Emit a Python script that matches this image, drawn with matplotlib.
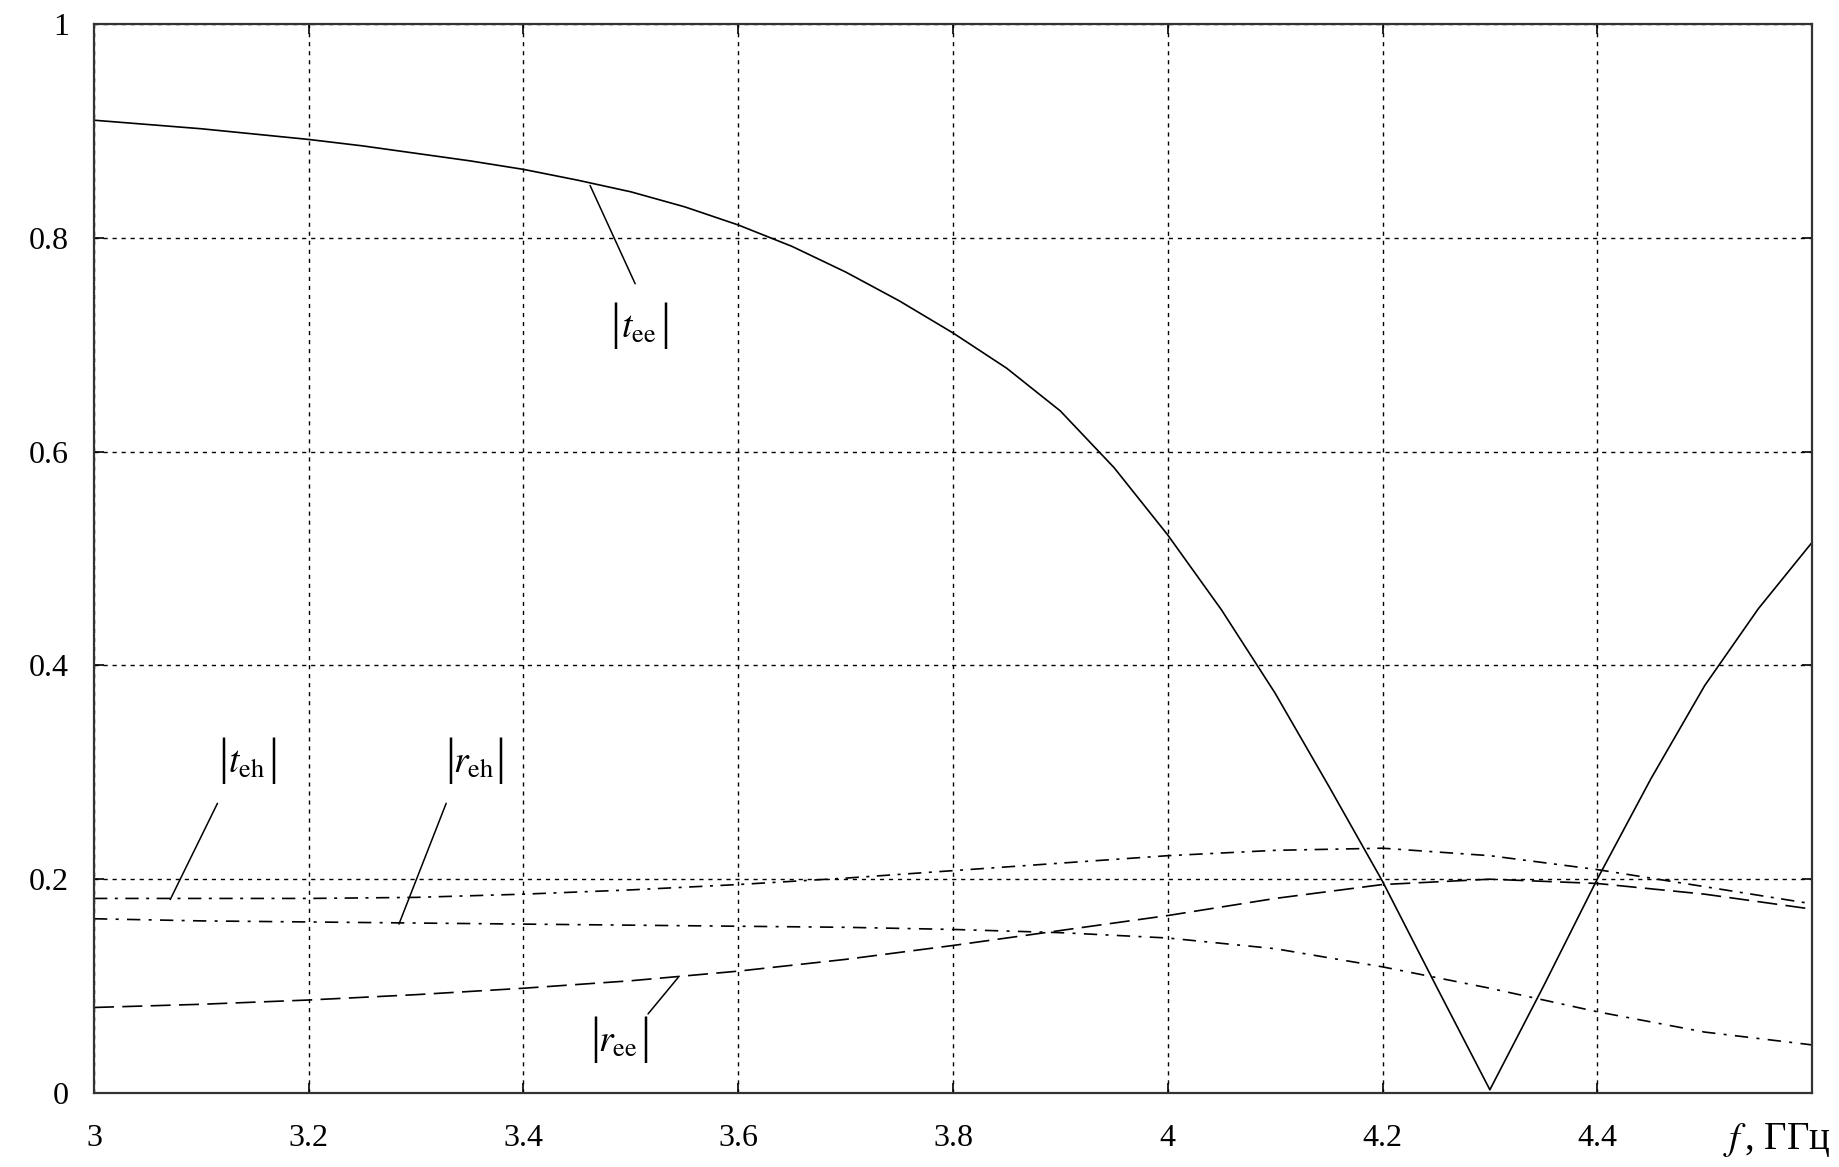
import matplotlib
matplotlib.use("Agg")
import matplotlib.pyplot as plt
from matplotlib.ticker import FuncFormatter, MultipleLocator

plt.rcParams['font.family'] = ['Liberation Serif', 'DejaVu Serif']
plt.rcParams['mathtext.fontset'] = 'stix'

# |t_ee| (solid)
f_tee = [3.00, 3.05, 3.10, 3.15, 3.20, 3.25, 3.30, 3.35, 3.40, 3.45, 3.50,
         3.55, 3.60, 3.65, 3.70, 3.75, 3.80, 3.85, 3.90, 3.95, 4.00, 4.05,
         4.10, 4.15, 4.20, 4.25, 4.30, 4.35, 4.40, 4.45, 4.50, 4.55, 4.60]
t_ee = [0.910, 0.906, 0.902, 0.897, 0.892, 0.886, 0.879, 0.872, 0.864, 0.854,
        0.843, 0.829, 0.812, 0.792, 0.768, 0.741, 0.711, 0.678, 0.638, 0.585,
        0.522, 0.452, 0.374, 0.287, 0.198, 0.100, 0.003, 0.100, 0.200, 0.294,
        0.381, 0.453, 0.515]

# other curves
f = [3.0, 3.1, 3.2, 3.3, 3.4, 3.5, 3.6, 3.7, 3.8, 3.9, 4.0, 4.1, 4.2, 4.3,
     4.4, 4.5, 4.6]
t_eh = [0.182, 0.182, 0.182, 0.183, 0.186, 0.190, 0.195, 0.201, 0.208, 0.215,
        0.222, 0.227, 0.229, 0.222, 0.209, 0.193, 0.177]
r_eh = [0.163, 0.161, 0.160, 0.159, 0.158, 0.157, 0.156, 0.155, 0.153, 0.150,
        0.145, 0.135, 0.118, 0.098, 0.076, 0.057, 0.045]
r_ee = [0.080, 0.083, 0.087, 0.092, 0.098, 0.105, 0.114, 0.125, 0.138, 0.152,
        0.166, 0.182, 0.195, 0.200, 0.196, 0.186, 0.172]

xticks = [3, 3.2, 3.4, 3.6, 3.8, 4, 4.2, 4.4]


def curve_label(ax, x, y, body):
    # |body| with tall bars, anchored on the baseline
    ax.annotate(body, xy=(x, y), xytext=(-1.5, 0), textcoords='offset points',
                fontsize=27, ha='center', va='baseline')
    for dx in (-18, 18):
        ax.annotate('|', xy=(x, y), xytext=(dx, 0), textcoords='offset points',
                    fontsize=36, ha='center', va='baseline')


fig = plt.figure(figsize=(18.39, 11.67), dpi=100)
ax = fig.add_axes([94 / 1839, 1 - 1093 / 1167, (1812 - 94) / 1839, (1093 - 24) / 1167])

lw = 1.2
ax.plot(f_tee, t_ee, color='black', lw=lw)
ax.plot(f, t_eh, color='black', lw=lw, dashes=(8, 4.5, 1.8, 4.5))
ax.plot(f, r_eh, color='black', lw=lw, dashes=(8, 5, 1.8, 5))
ax.plot(f, r_ee, color='black', lw=lw, dashes=(12, 5))

ax.set_xlim(3, 4.6)
ax.set_ylim(0, 1)
ax.set_xticks(xticks)
ax.yaxis.set_major_locator(MultipleLocator(0.2))
fmt = FuncFormatter(lambda v, p: '%g' % round(v, 2))
ax.xaxis.set_major_formatter(fmt)
ax.yaxis.set_major_formatter(fmt)
ax.grid(True, color='black', lw=1.0, ls=(0, (3, 3.5)))
ax.tick_params(direction='in', length=7, width=1.2, top=True, right=True,
               labelsize=23)
ax.tick_params(axis='x', pad=22)
ax.tick_params(axis='y', pad=18)
for s in ax.spines.values():
    s.set_linewidth(1.6)
    s.set_color('#333333')

ax.text(1.011, -0.044, r'$f\,$, ГГц', transform=ax.transAxes, fontsize=28,
        ha='right', va='center')

# curve labels with leader lines
line = dict(arrowstyle='-', color='black', lw=1.1, shrinkA=0, shrinkB=0)
ax.annotate('', xy=(3.462, 0.849), xytext=(3.504, 0.757), arrowprops=line)
curve_label(ax, 3.509, 0.706, r'$t_{\mathrm{ee}}$')
ax.annotate('', xy=(3.071, 0.181), xytext=(3.115, 0.271), arrowprops=line)
curve_label(ax, 3.144, 0.299, r'$t_{\mathrm{eh}}$')
ax.annotate('', xy=(3.284, 0.158), xytext=(3.328, 0.271), arrowprops=line)
curve_label(ax, 3.355, 0.299, r'$r_{\mathrm{eh}}$')
ax.annotate('', xy=(3.544, 0.108), xytext=(3.516, 0.074), arrowprops=line)
curve_label(ax, 3.490, 0.038, r'$r_{\mathrm{ee}}$')

fig.savefig('out.png', dpi=100)
